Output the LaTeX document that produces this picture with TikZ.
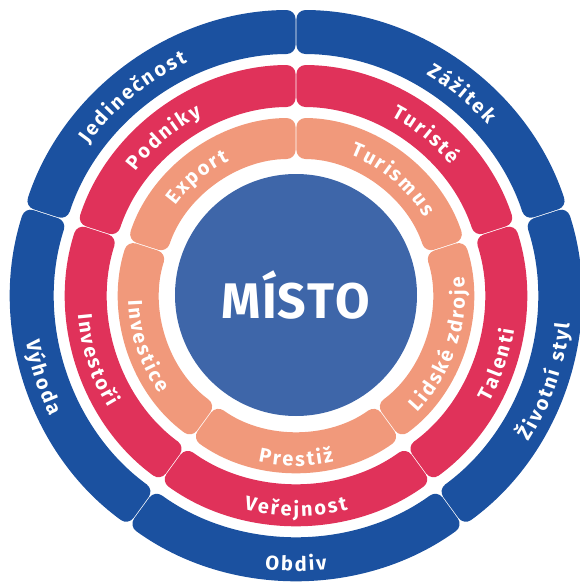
\documentclass[tikz,border=0pt]{standalone}
\usepackage{fontspec}
\setmainfont{Fira Sans}
\newfontfamily\ringfont{Fira Sans}
\newcommand\ringlabelfont{\ringfont\bfseries\fontsize{20}{20}\selectfont}
\usetikzlibrary{decorations.text}

\definecolor{outerblue}{HTML}{1B51A0}
\definecolor{coreblue}{HTML}{3E66A9}
\definecolor{ringred}{HTML}{E0325A}
\definecolor{ringsalmon}{HTML}{F1997B}

\begin{document}
\begin{tikzpicture}[
    x=1pt, y=1pt,
    segment/.style={fill=#1, rounded corners=9pt},
    ringtext/.style={decorate, decoration={text effects along path, text={#1}, text align=center,
        text effects/.cd,
        characters={text=white, inner sep=0pt, anchor=base, transform shape, font=\ringlabelfont},
        character widths={inner xsep=1.1pt, inner ysep=0pt, font=\ringlabelfont}}},
]

% Frame
\useasboundingbox (-296,-289) rectangle (283,295);

% Core
\fill[coreblue] (0,0) circle (121);
\node[font=\ringfont\bfseries\fontsize{50}{50}\selectfont, text=white] (misto) at (0,0) {M\kern1ptÍ\kern1ptS\kern1ptT\kern1ptO};

% Rings: five segments each
\foreach \rin/\rout/\col in {136/177/ringsalmon, 188/230/ringred, 241/285/outerblue}{
  \foreach \g in {-126,-54,18,90,162}{
    \fill[segment=\col] ({\g+25/\rout}:\rout) arc[start angle={\g+25/\rout}, end angle={\g+72-25/\rout}, radius=\rout]
        -- ({\g+72-25/\rin}:\rin) arc[start angle={\g+72-25/\rin}, end angle={\g+25/\rin}, radius=\rin] -- cycle;
  }
}

% Outer ring labels
\path[ringtext={Jedinečnost}] (199.5:256.5) arc[start angle=199.5, end angle=59.5, radius=256.5];
\path[ringtext={Zážitek}] (120.5:256.5) arc[start angle=120.5, end angle=-19.5, radius=256.5];
\path[ringtext={Životní styl}] (-89:275) arc[start angle=-89, end angle=51, radius=275];
\path[ringtext={Obdiv}] (-160:276) arc[start angle=-160, end angle=-20, radius=276];
\path[ringtext={Výhoda}] (128:274) arc[start angle=128, end angle=268, radius=274];

% Middle ring labels
\path[ringtext={Podniky}] (200:202.5) arc[start angle=200, end angle=60, radius=202.5];
\path[ringtext={Turisté}] (121:202.5) arc[start angle=121, end angle=-19, radius=202.5];
\path[ringtext={Talenti}] (-89:221) arc[start angle=-89, end angle=51, radius=221];
\path[ringtext={Veřejnost}] (-160:221) arc[start angle=-160, end angle=-20, radius=221];
\path[ringtext={Investoři}] (128:219) arc[start angle=128, end angle=268, radius=219];

% Inner ring labels
\path[ringtext={Export}] (200:150) arc[start angle=200, end angle=60, radius=150];
\path[ringtext={Turismus}] (120:150) arc[start angle=120, end angle=-20, radius=150];
\path[ringtext={Lidské zdroje}] (-89:169) arc[start angle=-89, end angle=51, radius=169];
\path[ringtext={Prestiž}] (-160:171) arc[start angle=-160, end angle=-20, radius=171];
\path[ringtext={Investice}] (129:168) arc[start angle=129, end angle=269, radius=168];

\end{tikzpicture}
\end{document}
